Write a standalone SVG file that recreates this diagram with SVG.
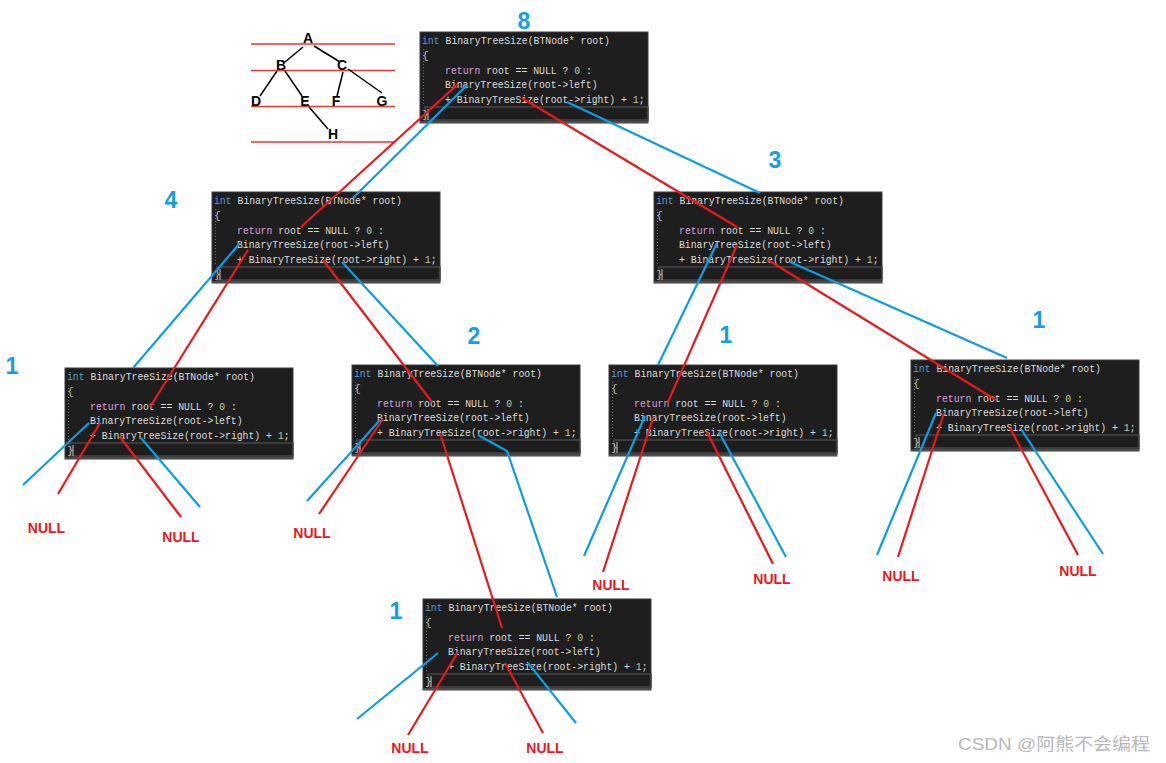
<svg xmlns="http://www.w3.org/2000/svg" xmlns:xlink="http://www.w3.org/1999/xlink" width="1166" height="763" viewBox="0 0 1166 763">
<style>
.code{font-family:"Liberation Mono","DejaVu Sans Mono",monospace;font-size:11.5px;fill:#dcdcdc}
.kw{fill:#569cd6}.ret{fill:#d8a0df}.num{fill:#b5cea8}.br{fill:#b4b4b4}
.cnt{font-family:"Liberation Sans",Arial,sans-serif;font-weight:bold;font-size:23px;fill:#12a0e3;text-anchor:middle}
.nul{font-family:"Liberation Sans",Arial,sans-serif;font-weight:bold;font-size:14px;fill:#e8191f;text-anchor:middle}
.tl{font-family:"Liberation Sans",Arial,sans-serif;font-weight:bold;font-size:14px;fill:#000;text-anchor:middle}
.rl{stroke:#e53935;stroke-width:1.5}
.bl{stroke:#000;stroke-width:1.5}
.r{stroke:#e8191f;stroke-width:2.2;fill:none}
.b{stroke:#0c9de2;stroke-width:2.2;fill:none}
.wm{font-family:"Liberation Sans","Noto Sans CJK SC",sans-serif;font-size:17px;fill:#b8b8b8}
</style>
<defs>
<g id="code">
<rect x="0" y="0" width="228" height="91" fill="#1e1e1e" stroke="#3a3a3a" stroke-width="1"/>
<line x1="3.5" y1="17" x2="3.5" y2="74" stroke="#707070" stroke-width="1" stroke-dasharray="1,2"/>
<rect x="5" y="75" width="223" height="13" fill="none" stroke="#474747" stroke-width="1.5"/>
<line x1="0" y1="90" x2="228" y2="90" stroke="#5a5a5a" stroke-width="1.5"/>
<line x1="8" y1="77" x2="8" y2="88" stroke="#c8c8c8" stroke-width="1"/>
<text class="code" x="2" y="12" textLength="188" lengthAdjust="spacingAndGlyphs"><tspan class="kw">int</tspan> BinaryTreeSize(BTNode* root)</text>
<text class="code br" x="2" y="27">{</text>
<text class="code" x="25" y="42" textLength="147" lengthAdjust="spacingAndGlyphs"><tspan class="ret">return</tspan> root == NULL ? <tspan class="num">0</tspan> :</text>
<text class="code" x="25" y="56" textLength="152.6" lengthAdjust="spacingAndGlyphs">BinaryTreeSize(root-&gt;left)</text>
<text class="code" x="25" y="71" textLength="199.6" lengthAdjust="spacingAndGlyphs">+ BinaryTreeSize(root-&gt;right) + <tspan class="num">1</tspan>;</text>
<text class="code br" x="2" y="86">}</text>
</g>
</defs>
<rect width="1166" height="763" fill="#ffffff"/>

<g id="tree-sketch">
<line class="rl" x1="251" y1="44" x2="395" y2="44"/>
<line class="rl" x1="251" y1="70.5" x2="395" y2="70.5"/>
<line class="rl" x1="251" y1="106.5" x2="395" y2="106.5"/>
<line class="rl" x1="251" y1="142" x2="395" y2="142"/>
<line class="bl" x1="303" y1="47" x2="285" y2="62"/>
<line class="bl" x1="314" y1="46" x2="340" y2="62"/>
<line class="bl" x1="277" y1="71" x2="260" y2="96"/>
<line class="bl" x1="285" y1="71" x2="302" y2="96"/>
<line class="bl" x1="343" y1="72" x2="337" y2="96"/>
<line class="bl" x1="348" y1="69" x2="382" y2="93"/>
<line class="bl" x1="309" y1="107" x2="328" y2="129"/>
<text class="tl" x="308" y="43">A</text>
<text class="tl" x="281" y="70">B</text>
<text class="tl" x="342" y="70">C</text>
<text class="tl" x="256" y="106">D</text>
<text class="tl" x="305" y="106">E</text>
<text class="tl" x="336" y="106">F</text>
<text class="tl" x="382" y="106">G</text>
<text class="tl" x="333" y="139">H</text>
</g>

<g id="node-8"><use xlink:href="#code" href="#code" x="420" y="32"/><text class="cnt" x="524" y="29">8</text></g>
<g id="node-4"><use xlink:href="#code" href="#code" x="212" y="192"/><text class="cnt" x="171" y="208">4</text></g>
<g id="node-3"><use xlink:href="#code" href="#code" x="654" y="192"/><text class="cnt" x="775" y="168">3</text></g>
<g id="node-1a"><use xlink:href="#code" href="#code" x="65" y="368"/><text class="cnt" x="12" y="374">1</text></g>
<g id="node-2"><use xlink:href="#code" href="#code" x="352" y="365"/><text class="cnt" x="474" y="344">2</text></g>
<g id="node-1b"><use xlink:href="#code" href="#code" x="609" y="365"/><text class="cnt" x="726" y="343">1</text></g>
<g id="node-1c"><use xlink:href="#code" href="#code" x="911" y="360"/><text class="cnt" x="1039" y="328">1</text></g>
<g id="node-1d"><use xlink:href="#code" href="#code" x="423" y="599"/><text class="cnt" x="396" y="619">1</text></g>

<g id="null-labels">
<text class="nul" x="46.5" y="533">NULL</text>
<text class="nul" x="181" y="542">NULL</text>
<text class="nul" x="312" y="538">NULL</text>
<text class="nul" x="611" y="590">NULL</text>
<text class="nul" x="772" y="584">NULL</text>
<text class="nul" x="901" y="581">NULL</text>
<text class="nul" x="1078" y="576">NULL</text>
<text class="nul" x="410" y="753">NULL</text>
<text class="nul" x="545" y="753">NULL</text>
</g>

<g id="connectors">
<line class="r" x1="458" y1="84" x2="301" y2="227"/>
<line class="b" x1="467" y1="85" x2="354" y2="197"/>
<line class="r" x1="522" y1="98" x2="737" y2="227"/>
<line class="b" x1="567" y1="102" x2="760" y2="193"/>
<line class="b" x1="240" y1="243" x2="133" y2="368"/>
<line class="r" x1="248" y1="250" x2="150" y2="407"/>
<line class="r" x1="323" y1="260" x2="432" y2="402"/>
<line class="b" x1="342" y1="262" x2="438" y2="366"/>
<line class="b" x1="717" y1="243" x2="658" y2="365"/>
<line class="r" x1="737" y1="245" x2="668" y2="402"/>
<line class="r" x1="768" y1="260" x2="996" y2="400"/>
<line class="b" x1="790" y1="262" x2="1007" y2="358"/>
<line class="r" x1="440" y1="433" x2="502" y2="628"/>
<polyline class="b" points="478,435 507,451 557,597"/>
<line class="b" x1="89" y1="423" x2="23" y2="485"/>
<line class="r" x1="100" y1="423" x2="58" y2="494"/>
<line class="r" x1="120" y1="437" x2="181" y2="517"/>
<line class="b" x1="141" y1="438" x2="200" y2="507"/>
<line class="b" x1="380" y1="420" x2="307" y2="501"/>
<line class="r" x1="383" y1="419" x2="319" y2="514"/>
<line class="b" x1="645" y1="416" x2="584" y2="556"/>
<line class="r" x1="653" y1="418" x2="603" y2="572"/>
<line class="r" x1="707" y1="432" x2="773" y2="564"/>
<line class="b" x1="719" y1="432" x2="786" y2="557"/>
<line class="b" x1="936" y1="413" x2="877" y2="555"/>
<line class="r" x1="944" y1="413" x2="898" y2="557"/>
<line class="r" x1="1010" y1="428" x2="1078" y2="555"/>
<line class="b" x1="1021" y1="429" x2="1103" y2="554"/>
<line class="b" x1="438" y1="653" x2="357" y2="719"/>
<line class="r" x1="458" y1="652" x2="408" y2="735"/>
<line class="r" x1="505" y1="663" x2="543" y2="733"/>
<line class="b" x1="528" y1="663" x2="576" y2="723"/>
</g>

<text class="wm" x="958" y="750" textLength="192" lengthAdjust="spacingAndGlyphs">CSDN @阿熊不会编程</text>
</svg>
